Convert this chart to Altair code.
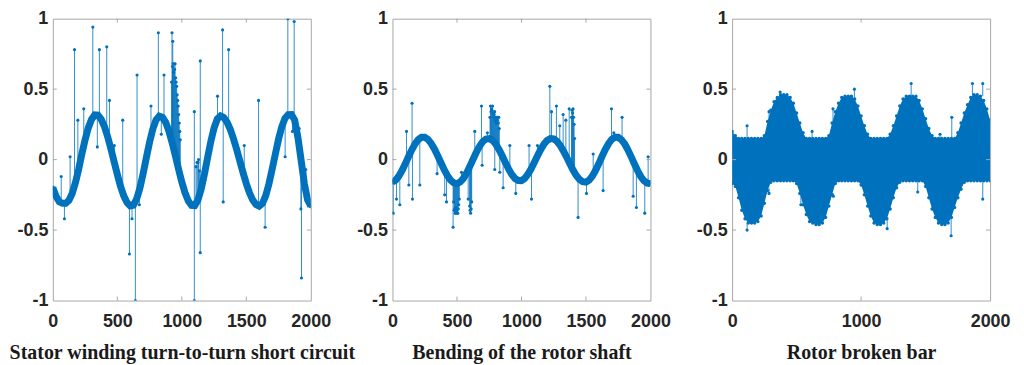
import altair as alt
import pandas as pd

# ---------------- data ----------------
X_GRID = list(range(0, 2001, 25))          # sample index of the read-off points

P1_BASE = [-0.20, -0.26, -0.30, -0.31, -0.31, -0.29, -0.24, -0.165, -0.07, 0.04,
           0.14, 0.225, 0.285, 0.317, 0.315, 0.286, 0.235, 0.163, 0.078, -0.014,
           -0.105, -0.19, -0.257, -0.304, -0.328, -0.323, -0.279, -0.202, -0.10, 0.013,
           0.123, 0.216, 0.281, 0.309, 0.30, 0.264, 0.202, 0.12, 0.028, -0.068,
           -0.159, -0.236, -0.293, -0.325, -0.326, -0.287, -0.209, -0.104, 0.014, 0.129,
           0.224, 0.288, 0.31, 0.299, 0.267, 0.216, 0.15, 0.073, -0.01, -0.093,
           -0.17, -0.236, -0.287, -0.319, -0.33, -0.311, -0.257, -0.174, -0.071, 0.039,
           0.145, 0.233, 0.293, 0.319, 0.32, 0.28, 0.158, -0.005, -0.17, -0.286,
           -0.33]
# outliers: (sample, value of the curve there, value of the outlier)
P1_SPIKES = [(65, -0.28, -0.12), (90, -0.31, -0.42), (134, -0.28, 0.02), (168, -0.15, 0.78),
             (194, -0.09, 0.28), (240, 0.10, 0.36), (310, 0.30, 0.94), (345, 0.31, 0.09),
             (361, 0.30, 0.78), (418, 0.17, 0.80), (439, 0.11, 0.42), (477, -0.02, 0.10),
             (542, -0.24, 0.28), (594, -0.32, -0.67), (614, -0.33, -0.42), (640, -0.30, -1.0),
             (653, -0.28, 0.60), (671, -0.21, -0.32), (761, 0.16, 0.38), (818, 0.30, 0.90),
             (841, 0.30, 0.18), (862, 0.28, 0.60), (924, 0.12, 0.90), (930, 0.10, 0.84),
             (920, 0.13, 0.55), (928, 0.11, 0.66), (932, 0.10, 0.68), (936, 0.09, 0.62),
             (940, 0.07, 0.68), (944, 0.06, 0.64), (948, 0.05, 0.68), (952, 0.03, 0.58),
             (956, 0.01, 0.55), (960, 0.0, 0.52), (964, -0.01, 0.46), (968, -0.03, 0.42),
             (972, -0.05, 0.38), (976, -0.07, 0.32), (980, -0.09, 0.26), (984, -0.10, 0.20),
             (988, -0.12, 0.14), (1097, -0.33, 0.34), (1097, -0.33, -1.0), (1110, -0.31, -0.05),
             (1118, -0.30, -0.02), (1125, -0.29, -0.02), (1130, -0.27, 0.0), (1136, -0.25, -0.08),
             (1143, -0.23, 0.70), (1143, -0.23, -0.66), (1277, 0.29, 0.45), (1316, 0.30, 0.92),
             (1321, 0.30, -0.30), (1363, 0.24, 0.78), (1484, -0.12, 0.10), (1595, -0.33, 0.42),
             (1646, -0.27, -0.48), (1801, 0.29, 0.02), (1822, 0.32, 1.0), (1858, 0.31, 0.20),
             (1871, 0.30, 0.98), (1910, 0.10, 0.22), (1923, 0.01, -0.35), (1928, -0.02, -0.84),
             (1961, -0.22, -0.07)]

P2_BASE = [-0.16, -0.145, -0.116, -0.076, -0.028, 0.022, 0.07, 0.112, 0.142, 0.158,
           0.158, 0.144, 0.115, 0.076, 0.029, -0.021, -0.07, -0.112, -0.145, -0.165,
           -0.17, -0.159, -0.133, -0.095, -0.048, 0.002, 0.052, 0.095, 0.128, 0.146,
           0.149, 0.137, 0.11, 0.073, 0.028, -0.02, -0.066, -0.105, -0.134, -0.148,
           -0.149, -0.133, -0.104, -0.065, -0.019, 0.029, 0.073, 0.11, 0.137, 0.149,
           0.147, 0.13, 0.101, 0.062, 0.018, -0.029, -0.074, -0.113, -0.141, -0.157,
           -0.16, -0.145, -0.116, -0.076, -0.028, 0.024, 0.072, 0.113, 0.143, 0.158,
           0.158, 0.141, 0.111, 0.07, 0.021, -0.029, -0.078, -0.12, -0.15, -0.167,
           -0.17]
P2_SPIKES = [(5, -0.16, -0.38), (31, -0.14, -0.28), (57, -0.13, -0.32), (109, -0.02, 0.20),
             (127, 0.02, -0.18), (152, 0.07, 0.40), (155, 0.08, -0.28), (212, 0.15, -0.18),
             (346, 0.03, -0.10), (405, -0.08, -0.25), (419, -0.10, -0.30), (470, -0.16, -0.48),
             (474, -0.165, -0.30), (478, -0.167, -0.36), (482, -0.168, -0.35), (486, -0.17, -0.38),
             (490, -0.17, -0.38), (494, -0.17, -0.34), (498, -0.17, -0.36), (502, -0.17, -0.38),
             (506, -0.168, -0.38), (510, -0.165, -0.35), (514, -0.163, -0.32), (518, -0.16, -0.28),
             (535, -0.15, -0.09), (587, -0.06, -0.28), (598, -0.05, -0.33), (602, -0.045, -0.36),
             (606, -0.04, -0.38), (610, -0.035, -0.35), (614, -0.03, -0.30), (638, 0.03, 0.20),
             (690, 0.12, 0.38), (695, 0.12, -0.04), (736, 0.15, 0.19),
             (756, 0.148, 0.30), (760, 0.147, 0.38), (764, 0.145, 0.34), (768, 0.143, 0.36),
             (772, 0.14, 0.35), (776, 0.137, 0.38), (780, 0.133, 0.33), (784, 0.128, 0.30),
             (788, 0.124, 0.32), (792, 0.12, 0.34), (796, 0.115, 0.28), (800, 0.11, 0.30),
             (804, 0.105, 0.26), (808, 0.10, 0.30), (812, 0.094, 0.28), (816, 0.088, 0.30),
             (820, 0.082, 0.26), (824, 0.076, 0.30), (828, 0.07, 0.22),
             (793, 0.12, -0.07), (832, 0.06, -0.09), (858, 0.01, -0.20), (910, -0.08, 0.10),
             (956, -0.14, -0.24), (1059, -0.09, 0.10), (1078, -0.06, -0.28), (1124, 0.03, 0.10),
             (1220, 0.15, 0.52), (1233, 0.15, 0.34), (1271, 0.13, 0.38), (1297, 0.10, 0.24),
             (1323, 0.06, 0.32), (1344, 0.03, 0.28), (1370, -0.02, 0.36),
             (1388, -0.06, 0.30), (1392, -0.065, 0.35), (1396, -0.07, 0.33), (1400, -0.074, 0.36),
             (1404, -0.08, 0.30), (1408, -0.085, 0.25), (1412, -0.09, 0.15),
             (1439, -0.13, -0.41), (1504, -0.16, -0.24), (1556, -0.11, 0.04), (1633, 0.04, -0.22),
             (1698, 0.14, 0.36), (1716, 0.15, 0.19), (1780, 0.14, 0.30), (1822, 0.07, 0.10),
             (1866, -0.01, -0.26), (1891, -0.06, -0.34), (1956, -0.15, -0.38), (1982, -0.17, 0.02)]

P3_UPPER = [0.20, 0.17, 0.15, 0.15, 0.15, 0.15, 0.15, 0.15, 0.15, 0.15,
            0.17, 0.27, 0.35, 0.41, 0.44, 0.46, 0.46, 0.46, 0.44, 0.40,
            0.33, 0.26, 0.19, 0.15, 0.15, 0.15, 0.15, 0.15, 0.15, 0.15,
            0.17, 0.26, 0.34, 0.40, 0.44, 0.45, 0.45, 0.45, 0.43, 0.38,
            0.31, 0.24, 0.18, 0.15, 0.15, 0.15, 0.15, 0.15, 0.15, 0.18,
            0.24, 0.31, 0.38, 0.43, 0.45, 0.45, 0.45, 0.45, 0.42, 0.36,
            0.29, 0.22, 0.17, 0.15, 0.15, 0.15, 0.15, 0.15, 0.15, 0.15,
            0.19, 0.26, 0.33, 0.39, 0.44, 0.46, 0.46, 0.45, 0.42, 0.36,
            0.28]
P3_LOWER = [-0.17, -0.19, -0.27, -0.36, -0.42, -0.45, -0.45, -0.45, -0.44, -0.40,
            -0.31, -0.22, -0.16, -0.15, -0.15, -0.15, -0.15, -0.15, -0.15, -0.15,
            -0.17, -0.24, -0.32, -0.39, -0.44, -0.45, -0.46, -0.46, -0.45, -0.41,
            -0.33, -0.25, -0.17, -0.15, -0.15, -0.15, -0.15, -0.15, -0.15, -0.15,
            -0.18, -0.25, -0.33, -0.40, -0.45, -0.46, -0.46, -0.45, -0.42, -0.35,
            -0.27, -0.20, -0.16, -0.15, -0.15, -0.15, -0.15, -0.15, -0.15, -0.15,
            -0.19, -0.27, -0.35, -0.41, -0.45, -0.46, -0.46, -0.45, -0.41, -0.34,
            -0.27, -0.21, -0.16, -0.15, -0.15, -0.15, -0.15, -0.15, -0.15, -0.15,
            -0.15]
P3_SPIKES = [(116, 0.15, 0.24), (116, -0.45, -0.50), (286, 0.28, 0.34), (286, -0.20, -0.24),
             (372, 0.46, 0.48), (533, -0.22, -0.32), (620, 0.15, 0.20), (782, 0.27, 0.36),
             (785, -0.24, -0.26), (948, 0.43, 0.50), (1202, -0.42, -0.49), (1388, 0.45, 0.54),
             (1439, -0.15, -0.23), (1612, 0.15, 0.18), (1698, -0.42, -0.54), (1703, 0.15, 0.30),
             (1863, 0.44, 0.54), (1943, 0.45, 0.54), (1943, -0.15, -0.28)]

TITLES = ["Stator winding turn-to-turn short circuit",
          "Bending of the rotor shaft",
          "Rotor broken bar"]
XTICKS_A = [0, 500, 1000, 1500, 2000]
XTICKS_B = [0, 1000, 2000]
YTICKS = [-1, -0.5, 0, 0.5, 1]

# ---------------- styling ----------------
BLUE = "#0072BD"
BOX = "#a6a6a6"
W, H = 259, 283


def panel(title, xticks, spikes, base=None, band=None):
    xenc = alt.X("x:Q", scale=alt.Scale(domain=[0, 2000], nice=False, zero=False),
                 axis=alt.Axis(values=xticks, title=title, labelExpr="'' + datum.value",
                               labelFlush=False, labelOverlap=False))
    yenc = alt.Y("y:Q", scale=alt.Scale(domain=[-1, 1], nice=False, zero=False),
                 axis=alt.Axis(values=YTICKS, title=None, labelExpr="'' + datum.value",
                               labelFlush=False, labelOverlap=False))
    layers = []
    sdf = pd.DataFrame(spikes, columns=["x", "y", "y2"])
    layers.append(alt.Chart(sdf).mark_rule(color=BLUE, strokeWidth=1, opacity=0.8, clip=True)
                  .encode(x=xenc, y=yenc, y2="y2:Q"))
    if band is not None:
        up, lo = band
        bdf = pd.DataFrame({"x": X_GRID, "y": up, "y2": lo})
        layers.append(alt.Chart(bdf).mark_area(color=BLUE, opacity=1, clip=True)
                      .encode(x=xenc, y=yenc, y2="y2:Q"))
        edf = pd.DataFrame({"x": X_GRID + X_GRID, "y": up + lo})
        layers.append(alt.Chart(edf).mark_circle(color=BLUE, size=12, opacity=1, clip=True)
                      .encode(x=xenc, y=yenc))
    if base is not None:
        ldf = pd.DataFrame({"x": X_GRID, "y": base})
        layers.append(alt.Chart(ldf).mark_line(color=BLUE, strokeWidth=7, clip=True)
                      .encode(x=xenc, y=yenc))
        layers.append(alt.Chart(ldf).mark_circle(color=BLUE, size=22, opacity=1, clip=True)
                      .encode(x=xenc, y=yenc))
    tdf = pd.DataFrame({"x": sdf["x"], "y": sdf["y2"]})
    layers.append(alt.Chart(tdf).mark_circle(color=BLUE, size=10, opacity=1, clip=True)
                  .encode(x=xenc, y=yenc))
    # inward ticks on all four sides (MATLAB box style)
    xt = pd.DataFrame({"x": [v for v in xticks if 0 < v < 2000]})
    yt = pd.DataFrame({"y": [v for v in YTICKS if -1 < v < 1]})
    layers.append(alt.Chart(xt).mark_rule(color=BOX, strokeWidth=1)
                  .encode(x=xenc, y=alt.value(0), y2=alt.value(4)))
    layers.append(alt.Chart(xt).mark_rule(color=BOX, strokeWidth=1)
                  .encode(x=xenc, y=alt.value(H - 4), y2=alt.value(H)))
    layers.append(alt.Chart(yt).mark_rule(color=BOX, strokeWidth=1)
                  .encode(y=yenc, x=alt.value(0), x2=alt.value(4)))
    layers.append(alt.Chart(yt).mark_rule(color=BOX, strokeWidth=1)
                  .encode(y=yenc, x=alt.value(W - 4), x2=alt.value(W)))
    return alt.layer(*layers).properties(width=W, height=H)


p1 = panel(TITLES[0], XTICKS_A, P1_SPIKES, base=P1_BASE)
p2 = panel(TITLES[1], XTICKS_A, P2_SPIKES, base=P2_BASE)
p3 = panel(TITLES[2], XTICKS_B, P3_SPIKES, band=(P3_UPPER, P3_LOWER))

chart = (
    alt.hconcat(p1, p2, p3, spacing=82, bounds="flush")
    .properties(padding={"left": 0, "top": 0, "right": 5, "bottom": 0}, background="white")
    .configure_view(stroke=BOX, strokeWidth=1)
    .configure_axis(grid=False, domain=False, ticks=False,
                    labelFont="Liberation Sans", labelFontWeight="bold", labelFontSize=18,
                    labelColor="#262626",
                    titleFont="Liberation Serif", titleFontWeight="bold", titleFontSize=20,
                    titleColor="#1a1a1a")
    .configure_axisX(labelPadding=12, titlePadding=12)
    .configure_axisY(labelPadding=5)
)

chart.save("out.html", embed_options={"renderer": "svg", "actions": False})
